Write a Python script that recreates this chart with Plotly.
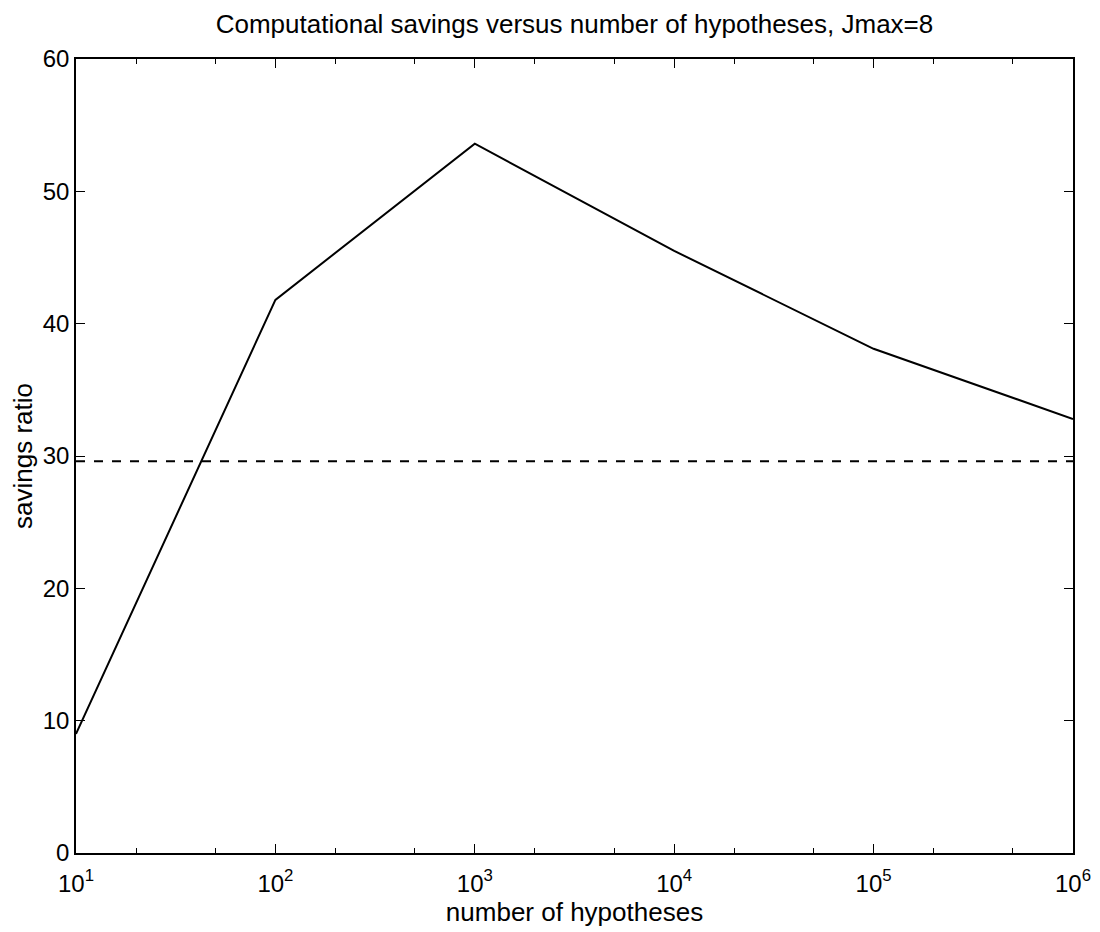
import plotly.graph_objects as go

hypotheses = [1e1, 1e2, 1e3, 1e4, 1e5, 1e6]
savings_ratio = [9.0, 41.8, 53.6, 45.5, 38.1, 32.8]
reference_x = [1e1, 1e6]
reference_level = [29.6, 29.6]
x_tick_values = [1e1, 1e2, 1e3, 1e4, 1e5, 1e6]
x_tick_labels = ["10<sup>1</sup>", "10<sup>2</sup>", "10<sup>3</sup>",
                 "10<sup>4</sup>", "10<sup>5</sup>", "10<sup>6</sup>"]

font = "Liberation Sans, Arial, Helvetica, sans-serif"

fig = go.Figure()
fig.add_trace(go.Scatter(x=hypotheses, y=savings_ratio, mode="lines",
                         line=dict(color="black", width=2), showlegend=False))
fig.add_trace(go.Scatter(x=reference_x, y=reference_level, mode="lines",
                         line=dict(color="black", width=2, dash="dash"), showlegend=False))

# page body adds an 8px offset; margins compensate so the plot lands where the reference has it
fig.update_layout(
    width=1100, height=932,
    margin=dict(l=68, r=35, t=51, b=87, autoexpand=False),
    paper_bgcolor="white", plot_bgcolor="white",
    font=dict(family=font, size=24, color="black"),
    title=dict(text="Computational savings versus number of hypotheses, Jmax=8",
               x=0.5, xref="paper", xanchor="center",
               y=0.993, yref="container", yanchor="top",
               pad=dict(t=0, b=0),
               font=dict(size=26, family=font, color="black")),
)
fig.update_xaxes(
    type="log", range=[1, 6], tickvals=x_tick_values, ticktext=x_tick_labels,
    showline=True, linecolor="black", linewidth=1.5, mirror="allticks",
    ticks="inside", ticklen=9, tickcolor="black",
    minor=dict(ticks="inside", ticklen=5, tickcolor="black", showgrid=False),
    showgrid=False, zeroline=False, automargin=False,
    ticklabelstandoff=8,
    title=dict(text="number of hypotheses", font=dict(size=26, family=font), standoff=0),
    tickfont=dict(size=24, family=font),
)
fig.update_yaxes(
    range=[0, 60], dtick=10,
    showline=True, linecolor="black", linewidth=1.5, mirror="allticks",
    ticks="inside", ticklen=9, tickcolor="black",
    showgrid=False, zeroline=False, automargin=False,
    title=dict(text="savings ratio", font=dict(size=26, family=font), standoff=6),
    tickfont=dict(size=24, family=font),
)

fig.write_html("out.html")
